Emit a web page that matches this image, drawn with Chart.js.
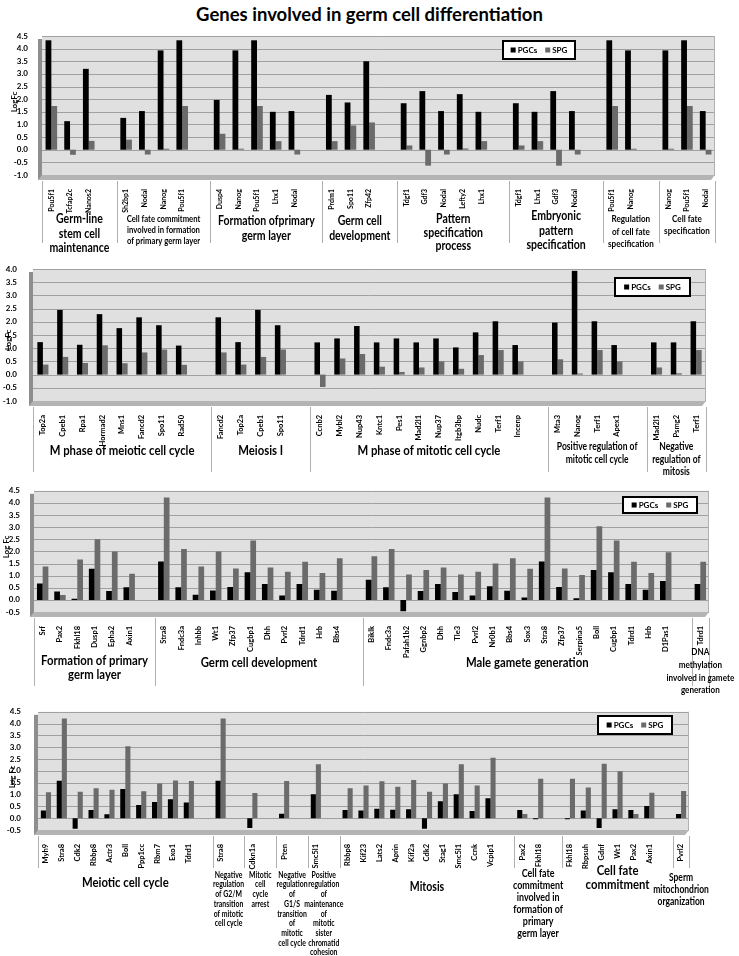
<!DOCTYPE html>
<html>
<head>
<meta charset="utf-8">
<script src="https://cdn.jsdelivr.net/npm/chart.js@4.4.0/dist/chart.umd.min.js"></script>
<style>
body { margin: 0; background: #fff; width: 739px; height: 956px; position: relative; overflow: hidden; }
#title { position: absolute; left: 0; top: 3px; width: 739px; text-align: center; font: bold 18.5px Lato, sans-serif; color: #000; }
canvas { position: absolute; left: 0; }
.yt { position: absolute; font: bold 8px Lato, sans-serif; color: #000; white-space: nowrap; transform: translate(-50%, -50%) rotate(-90deg); }
</style>
</head>
<body>
<div id="title">Genes involved in germ cell differentiation</div>
<canvas id="p1" width="739" height="230" style="top:25px"></canvas>
<canvas id="p2" width="739" height="225" style="top:255px"></canvas>
<canvas id="p3" width="739" height="218" style="top:480px"></canvas>
<canvas id="p4" width="739" height="258" style="top:698px"></canvas>
<div class="yt" style="left:14px;top:102px">LogFc</div>
<div class="yt" style="left:7.5px;top:340px">LogFc</div>
<div class="yt" style="left:6px;top:547px">Log Fc</div>
<div class="yt" style="left:11.5px;top:777px">Log Fc</div>
<script>
// ---- Panel 1 data
const p1Groups = ['Germ-line\nstem cell\nmaintenance', 'Cell fate commitment\ninvolved in formation\nof primary germ layer',
  'Formation ofprimary\ngerm layer', 'Germ cell\ndevelopment', 'Pattern\nspecification\nprocess',
  'Embryonic\npattern\nspecification', 'Regulation\nof cell fate\nspecification', 'Cell fate\nspecification'];
const p1Counts = [3, 4, 5, 3, 5, 4, 2, 3];
const p1Genes = ['Pou5f1', 'Tcfap2c', 'Nanos2', 'Sh2bp1', 'Nodal', 'Nanog', 'Pou5f1', 'Dusp4', 'Nanog', 'Pou5f1', 'Lhx1', 'Nodal',
  'Prdm1', 'Spo11', 'Zfp42', 'Tdgf1', 'Gdf3', 'Nodal', 'Lefty2', 'Lhx1', 'Tdgf1', 'Lhx1', 'Gdf3', 'Nodal',
  'Pou5f1', 'Nanog', 'Nanog', 'Pou5f1', 'Nodal'];
const p1Pgc = [4.33, 1.13, 3.2, 1.26, 1.53, 3.93, 4.33, 1.97, 3.93, 4.33, 1.5, 1.53, 2.17, 1.87, 3.5, 1.84, 2.32, 1.53, 2.2, 1.5,
  1.84, 1.5, 2.32, 1.53, 4.33, 3.93, 3.93, 4.33, 1.53];
const p1Spg = [1.73, -0.2, 0.35, 0.4, -0.19, 0.04, 1.73, 0.63, 0.04, 1.73, 0.34, -0.19, 0.34, 0.96, 1.08, 0.17, -0.63, -0.19, 0.05, 0.34,
  0.17, 0.34, -0.63, -0.19, 1.73, 0.04, 0.04, 1.73, -0.19];

// ---- Panel 2 data
const p2Groups = ['M phase of meiotic cell cycle', 'Meiosis I', 'M phase of mitotic cell cycle',
  'Positive regulation of\nmitotic cell cycle', 'Negative\nregulation of\nmitosis'];
const p2Counts = [8, 4, 11, 4, 3];
const p2Genes = ['Top2a', 'Cpeb1', 'Rpa1', 'Hormad2', 'Mns1', 'Fancd2', 'Spo11', 'Rad50', 'Fancd2', 'Top2a', 'Cpeb1', 'Spo11',
  'Ccnb2', 'Mybl2', 'Nup43', 'Kntc1', 'Pes1', 'Mad2l1', 'Nup37', 'Itgb3bp', 'Nudc', 'Terf1', 'Incenp',
  'Mta3', 'Nanog', 'Terf1', 'Apex1', 'Mad2l1', 'Psmg2', 'Terf1'];
const p2Pgc = [1.23, 2.45, 1.13, 2.29, 1.76, 2.17, 1.87, 1.1, 2.17, 1.23, 2.45, 1.87,
  1.22, 1.37, 1.84, 1.22, 1.37, 1.22, 1.37, 1.03, 1.6, 2.02, 1.12, 1.97, 3.93, 2.02, 1.12, 1.22, 1.22, 2.02];
const p2Spg = [0.38, 0.67, 0.44, 1.11, 0.43, 0.84, 0.95, 0.37, 0.84, 0.38, 0.67, 0.95,
  -0.47, 0.61, 0.78, 0.3, 0.1, 0.27, 0.5, 0.22, 0.74, 0.93, 0.5, 0.58, 0.04, 0.93, 0.5, 0.27, 0.05, 0.93];

// ---- Panel 3 data
const p3Groups = ['Formation of primary\ngerm layer', 'Germ cell development', 'Male gamete generation',
  'DNA\nmethylation\ninvolved in gamete\ngeneration'];
const p3Counts = [6, 11, 18, 1];
const p3Genes = ['Srf', 'Pax2', 'Fkhl18', 'Dusp1', 'Epha2', 'Axin1',
  'Stra8', 'Fndc3a', 'Inhbb', 'Wt1', 'Zfp37', 'Cugbp1', 'Dhh', 'Pvrl2', 'Tdrd1', 'Hrb', 'Bbs4',
  'Biklk', 'Fndc3a', 'Pafah1b2', 'Ggnbp2', 'Dhh', 'Tle3', 'Pvrl2', 'Nr0b1', 'Bbs4', 'Sox3', 'Stra8', 'Zfp37',
  'Serpina5', 'Boll', 'Cugbp1', 'Tdrd1', 'Hrb', 'D1Pas1', 'Tdrd1'];
const p3Pgc = [0.68, 0.35, 0.05, 1.28, 0.37, 0.52,
  1.58, 0.52, 0.21, 0.39, 0.53, 1.14, 0.66, 0.18, 0.66, 0.42, 0.38,
  0.83, 0.52, -0.47, 0.37, 0.66, 0.33, 0.18, 0.56, 0.38, 0.1, 1.58, 0.53, 0.07, 1.23, 1.14, 0.66, 0.42, 0.78, 0.66];
const p3Spg = [1.38, 0.2, 1.67, 2.5, 2.0, 1.08,
  4.22, 2.1, 1.38, 2.0, 1.29, 2.45, 1.34, 1.16, 1.57, 1.11, 1.72,
  1.8, 2.1, 1.05, 1.23, 1.34, 1.05, 1.16, 1.5, 1.72, 1.28, 4.22, 1.29, 1.03, 3.04, 2.45, 1.57, 1.11, 1.97, 1.57];

// ---- Panel 4 data
const p4Groups = ['Meiotic cell cycle', 'Negative\nregulation\nof G2/M\ntransition\nof mitotic\ncell cycle',
  'Mitotic\ncell\ncycle\narrest', 'Negative\nregulation\nof\nG1/S\ntransition\nof\nmitotic\ncell cycle',
  'Positive\nregulation\nof\nmaintenance\nof\nmitotic\nsister\nchromatid\ncohesion', 'Mitosis',
  'Cell fate\ncommitment\ninvolved in\nformation of\nprimary\ngerm layer', 'Cell fate\ncommitment',
  'Sperm\nmitochondrion\norganization'];
const p4Counts = [10, 1, 1, 1, 1, 10, 2, 6, 1];
const p4Genes = ['Myh9', 'Stra8', 'Cdk2', 'Rbbp8', 'Actr3', 'Boll', 'Ppp1cc', 'Rbm7', 'Exo1', 'Tdrd1',
  'Stra8', 'Cdkn1a', 'Pten', 'Smc5l1',
  'Rbbp8', 'Kif23', 'Lats2', 'Aprin', 'Kif2a', 'Cdk2', 'Stag1', 'Smc5l1', 'Ccnk', 'Vcpip1',
  'Pax2', 'Fkhl18', 'Fkhl18', 'Rbpsuh', 'Gdnf', 'Wt1', 'Pax2', 'Axin1', 'Pvrl2'];
const p4Pgc = [0.33, 1.58, -0.45, 0.35, 0.17, 1.23, 0.56, 0.68, 0.8, 0.66,
  1.58, -0.42, 0.19, 1.01,
  0.35, 0.33, 0.4, 0.36, 0.38, -0.45, 0.72, 1.01, 0.3, 0.84,
  0.35, -0.04, -0.04, 0.33, -0.42, 0.38, 0.35, 0.52, 0.18];
const p4Spg = [1.1, 4.22, 1.12, 1.27, 1.2, 3.04, 1.14, 1.47, 1.59, 1.57,
  4.22, 1.07, 1.57, 2.28,
  1.27, 1.38, 1.56, 1.33, 1.62, 1.12, 1.47, 2.28, 1.38, 2.56,
  0.18, 1.67, 1.67, 1.3, 2.3, 1.98, 0.18, 1.08, 1.15];

const seriesNames = ['PGCs', 'SPG'];
const seriesColors = ['#000000', '#6b6b6b'];

Chart.defaults.font.family = 'Lato';
Chart.defaults.color = '#000';

// lay genes out in slots, one blank slot after each group except the last
function buildSlots(counts, genes, pgc, spg) {
  const labels = [], a = [], b = [], starts = [];
  let g = 0;
  counts.forEach((n, gi) => {
    starts.push(labels.length);
    for (let k = 0; k < n; k++, g++) {
      labels.push(genes[g]); a.push(pgc[g]); b.push(spg[g]);
    }
    if (gi < counts.length - 1) { labels.push(''); a.push(null); b.push(null); }
  });
  starts.push(labels.length);
  return { labels, a, b, starts };
}

const condense = 0.81; // group names are set in a narrow face in the original

function slotEdges(chart) {
  const x = chart.scales.x;
  const n = chart.data.labels.length;
  const half = (x.getPixelForTick(1) - x.getPixelForTick(0)) / 2;
  return i => i >= n ? x.getPixelForTick(n - 1) + half : x.getPixelForTick(i) - half;
}

// 3D-ish wall and floor, gridlines, group separators, group names, legend box
const deco = {
  id: 'deco',
  beforeDatasetsDraw(chart) {
    const { ctx } = chart;
    const y = chart.scales.y;
    const edge = slotEdges(chart);
    const l = edge(0), r = edge(chart.data.labels.length);
    const t = y.getPixelForValue(y.max), b = y.getPixelForValue(y.min);
    ctx.save();
    ctx.fillStyle = '#e0e0e0';
    ctx.fillRect(l, t, r - l, b - t);
    ctx.strokeStyle = '#a0a0a0'; ctx.lineWidth = 1;
    y.ticks.forEach(tk => {
      const py = Math.round(y.getPixelForValue(tk.value)) + 0.5;
      ctx.beginPath(); ctx.moveTo(l, py); ctx.lineTo(r, py); ctx.stroke();
    });
    ctx.strokeStyle = '#b0b0b0';
    ctx.beginPath(); ctx.moveTo(r - 0.5, t); ctx.lineTo(r - 0.5, b); ctx.stroke();
    ctx.fillStyle = '#8e8e8e';
    ctx.fillRect(l - 4, t + 3, 4, b - t + 2);
    ctx.fillStyle = '#b4b4b4';
    ctx.beginPath();
    ctx.moveTo(l, b); ctx.lineTo(r, b); ctx.lineTo(r - 4, b + 5); ctx.lineTo(l - 4, b + 5);
    ctx.closePath(); ctx.fill();
    ctx.restore();
  },
  afterDraw(chart, args, o) {
    const { ctx, chartArea: a } = chart;
    const edge = slotEdges(chart);
    ctx.save();
    // group separators
    ctx.strokeStyle = '#b0b0b0'; ctx.lineWidth = 1;
    o.starts.forEach(i => {
      const px = Math.round(edge(i)) + 0.5;
      ctx.beginPath(); ctx.moveTo(px, a.bottom + 6); ctx.lineTo(px, o.sepBottom); ctx.stroke();
    });
    // group names
    ctx.fillStyle = '#000'; ctx.textAlign = 'center'; ctx.textBaseline = 'middle';
    o.groups.forEach((name, g) => {
      const [size, y0, lh] = o.groupStyle[g];
      ctx.font = 'bold ' + size + 'px Lato';
      const lines = name.split('\n');
      const w = Math.max(...lines.map(l => ctx.measureText(l).width)) * condense;
      let cx = (edge(o.starts[g]) + edge(o.starts[g + 1])) / 2;
      cx = Math.min(cx, chart.width - w / 2 - 1);
      lines.forEach((l, k) => {
        ctx.save();
        ctx.translate(cx, y0 + k * lh);
        ctx.scale(condense, 1);
        ctx.fillText(l, 0, 0);
        ctx.restore();
      });
    });
    // legend box
    const L = o.legend;
    ctx.fillStyle = '#fff'; ctx.fillRect(L.x, L.y, L.w, L.h);
    ctx.strokeStyle = '#000'; ctx.lineWidth = 2; ctx.strokeRect(L.x, L.y, L.w, L.h);
    ctx.font = 'bold 8px Lato'; ctx.textAlign = 'left';
    const gap = 8, sq = 5;
    const widths = seriesNames.map(s => ctx.measureText(s).width);
    const total = widths.reduce((s, v) => s + v + sq + 2, 0) + gap;
    let px = L.x + (L.w - total) / 2;
    const cy = L.y + L.h / 2;
    seriesNames.forEach((s, i) => {
      ctx.fillStyle = seriesColors[i];
      ctx.fillRect(px, cy - sq / 2, sq, sq);
      ctx.fillStyle = '#000';
      ctx.fillText(s, px + sq + 2, cy + 0.5);
      px += sq + 2 + widths[i] + gap;
    });
    ctx.restore();
  }
};

function makePanel(id, groups, counts, genes, pgc, spg, cfg) {
  const s = buildSlots(counts, genes, pgc, spg);
  new Chart(document.getElementById(id), {
    type: 'bar',
    data: {
      labels: s.labels,
      datasets: [
        { label: seriesNames[0], data: s.a, backgroundColor: seriesColors[0], categoryPercentage: cfg.cp, barPercentage: 1 },
        { label: seriesNames[1], data: s.b, backgroundColor: seriesColors[1], categoryPercentage: cfg.cp, barPercentage: 1 }
      ]
    },
    options: {
      responsive: false,
      animation: false,
      layout: { padding: cfg.pad },
      plugins: {
        legend: { display: false },
        tooltip: { enabled: false },
        deco: { groups, starts: s.starts, groupStyle: cfg.groupStyle, sepBottom: cfg.sepBottom, legend: cfg.legend }
      },
      scales: {
        x: {
          grid: { display: false },
          border: { display: false },
          ticks: { autoSkip: false, minRotation: 90, maxRotation: 90, padding: 6, font: { size: cfg.geneSize, weight: 'bold' } },
          afterFit: sc => { sc.height = cfg.xh; }
        },
        y: {
          min: cfg.min, max: cfg.max,
          grid: { display: false },
          border: { display: false },
          ticks: { stepSize: 0.5, autoSkip: false, padding: cfg.tickPad, font: { size: 8, weight: 'bold' }, callback: v => v.toFixed(1) },
          afterFit: sc => { sc.width = cfg.yw; }
        }
      }
    },
    plugins: [deco]
  });
}

makePanel('p1', p1Groups, p1Counts, p1Genes, p1Pgc, p1Spg, {
  min: -1, max: 4.5, cp: 0.62, geneSize: 7,
  pad: { top: 11, left: 8, right: 24, bottom: 35 }, yw: 34, xh: 45, tickPad: 6,
  groupStyle: [[13, 194, 14.5], [9.5, 194, 11], [13, 196, 14.5], [13, 196, 14.5], [13, 194, 13.5], [13, 191, 14.5], [10, 194, 12.5], [10, 194, 12]],
  sepBottom: 218, legend: { x: 503, y: 16, w: 72, h: 18 }
});
makePanel('p2', p2Groups, p2Counts, p2Genes, p2Pgc, p2Spg, {
  min: -1, max: 4, cp: 0.56, geneSize: 7.5,
  pad: { top: 14, left: 2, right: 33, bottom: 29 }, yw: 31, xh: 50, tickPad: 8,
  groupStyle: [[14, 195, 14], [14, 195, 14], [14, 195, 14], [10.5, 192, 12.3], [10.5, 192, 12.5]],
  sepBottom: 217, legend: { x: 615, y: 23, w: 75, h: 18 }
});
makePanel('p3', p3Groups, p3Counts, p3Genes, p3Pgc, p3Spg, {
  min: -0.5, max: 4.5, cp: 0.66, geneSize: 7.5,
  pad: { top: 8, left: 1, right: 30, bottom: 36 }, yw: 33, xh: 50, tickPad: 6,
  groupStyle: [[14, 180, 14], [14, 182, 14], [14, 182, 14], [10, 172, 12.7]],
  sepBottom: 206, legend: { x: 623, y: 17, w: 74, h: 16 }
});
makePanel('p4', p4Groups, p4Counts, p4Genes, p4Pgc, p4Spg, {
  min: -0.5, max: 4.5, cp: 0.64, geneSize: 7.5,
  pad: { top: 7, left: 6, right: 50, bottom: 76 }, yw: 32, xh: 50, tickPad: 9,
  groupStyle: [[14, 184, 14], [8.5, 177, 9.7], [8.5, 177, 9.7], [8.5, 177, 9.7], [8.5, 177, 9.7], [13, 189, 14], [11, 175, 12], [14, 172, 14], [10.5, 180, 12]],
  sepBottom: 170, legend: { x: 598, y: 18, w: 74, h: 18 }
});
</script>
</body>
</html>
